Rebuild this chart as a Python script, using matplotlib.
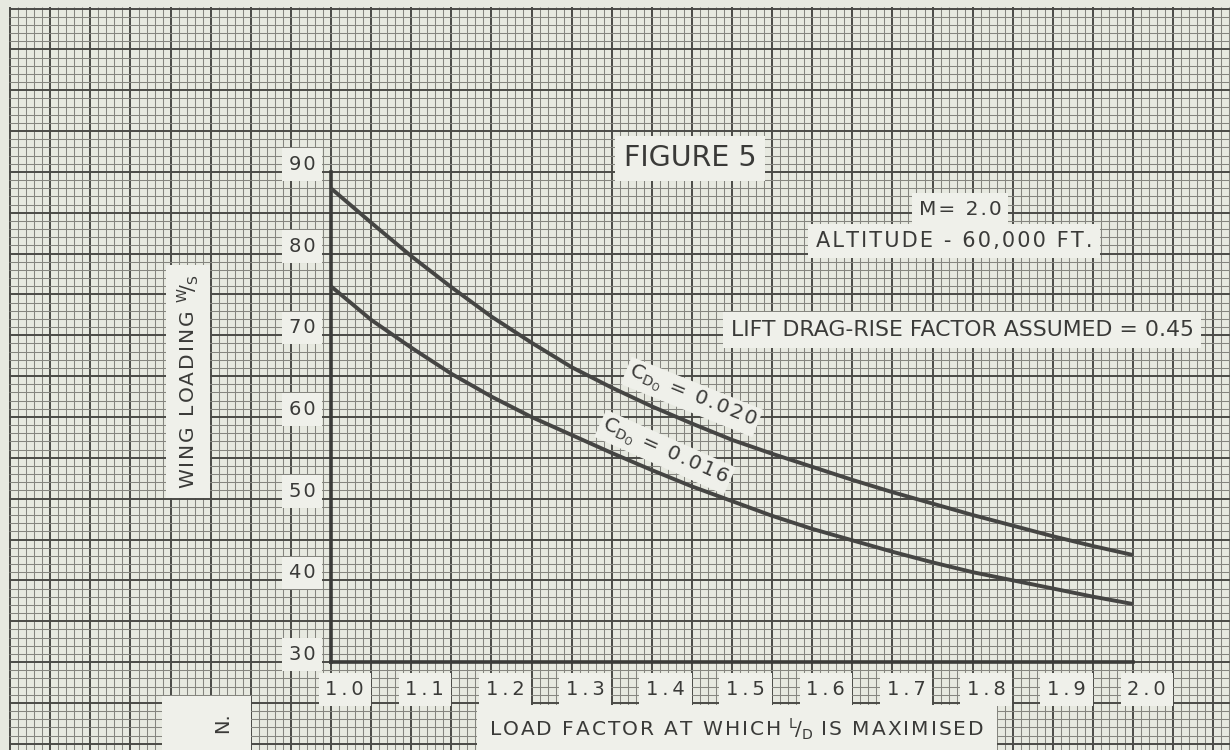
import numpy as np
import matplotlib
matplotlib.use("Agg")
import matplotlib.pyplot as plt

# load factor (x) and wing loading W/S
load_factor = [1.00, 1.05, 1.10, 1.15, 1.20, 1.25, 1.30, 1.35, 1.40, 1.45, 1.50,
               1.55, 1.60, 1.65, 1.70, 1.75, 1.80, 1.85, 1.90, 1.95, 2.00]
ws_cd020 = [88.0, 83.8, 79.7, 75.9, 72.3, 69.1, 66.1, 63.6, 61.3, 59.2, 57.2,
            55.5, 53.9, 52.3, 50.8, 49.4, 48.0, 46.7, 45.4, 44.2, 43.1]
ws_cd016 = [76.0, 71.9, 68.5, 65.3, 62.5, 60.0, 57.8, 55.6, 53.5, 51.5, 49.7,
            47.9, 46.3, 44.9, 43.5, 42.2, 41.0, 40.0, 39.0, 38.0, 37.1]

x_ticks = [1.0, 1.1, 1.2, 1.3, 1.4, 1.5, 1.6, 1.7, 1.8, 1.9, 2.0]
y_ticks = [30, 40, 50, 60, 70, 80, 90]

paper = "#e7e9e0"
boxc = "#eff0ea"
ink = "#3a3a38"


def spaced(s, gap="\u200a"):
    # wide letter spacing like the stencil lettering
    return gap.join(s)


fig = plt.figure(figsize=(12.3, 7.5), dpi=100, facecolor=paper)
ax = fig.add_axes([0, 0, 1, 1])
ax.set_facecolor(paper)
ax.set_xlim(0.5873, 2.1209)
ax.set_ylim(19.225, 111.06)
ax.axis('off')

# graph paper: minor every 0.01 / 1 unit, heavier every 5
xs = np.arange(60, 213) / 100
ys = np.arange(20, 111)
for i, x in enumerate(xs):
    major = (i % 5 == 0)
    ax.vlines(x, 19, 110.2, color="#4a4a46" if major else "#85857f",
              lw=1.4 if major else 0.75, zorder=1)
for j, y in enumerate(ys):
    major = (j % 5 == 0)
    ax.hlines(y, 0.598, 2.13, color="#4a4a46" if major else "#85857f",
              lw=1.4 if major else 0.75, zorder=1)

# axes
ax.plot([1.0, 1.0], [30, 90], color=ink, lw=2.6, zorder=3)
ax.plot([1.0, 2.0], [30, 30], color=ink, lw=2.6, zorder=3)

# curves
ax.plot(load_factor, ws_cd020, color="#454543", lw=2.8, zorder=4,
        solid_capstyle='butt')
ax.plot(load_factor, ws_cd016, color="#454543", lw=2.8, zorder=4,
        solid_capstyle='butt')

box = dict(boxstyle='square,pad=0.35', fc=boxc, ec='none')

for v in y_ticks:
    ax.text(0.964, v + 0.9, spaced(str(v)), ha='center', va='center',
            fontsize=14, color=ink, bbox=box, zorder=5)
for v in x_ticks:
    ax.text(v + 0.017, 26.6, spaced("%.1f" % v, "\u2009"), ha='center',
            va='center', fontsize=14, color=ink, bbox=box, zorder=5)

ax.text(1.4476, 91.7, "FIGURE 5", ha='center', va='center', fontsize=20.5,
        color=ink, bbox=dict(boxstyle='square,pad=0.3', fc=boxc, ec='none'), zorder=5)
ax.text(1.7843, 85.35, spaced("M= 2.0"), ha='center', va='center',
        fontsize=14.5, color=ink, bbox=box, zorder=5)
ax.text(1.7768, 81.55, spaced("ALTITUDE - 60,000 FT."), ha='center',
        va='center', fontsize=15, color=ink, bbox=box, zorder=5)
ax.text(1.7868, 70.65, "LIFT DRAG-RISE FACTOR ASSUMED = 0.45", ha='center',
        va='center', fontsize=15.8, color=ink, bbox=box, zorder=5)

ax.text(0.8217, 64.3, spaced("WING LOADING ") + r"$^{\mathrm{W}}\!/_{\mathrm{S}}$",
        ha='center', va='center', rotation=90, fontsize=14.5, color=ink,
        bbox=dict(boxstyle='square,pad=0.45', fc=boxc, ec='none'), zorder=5)
ax.text(1.5062, 21.7,
        spaced("LOAD FACTOR AT WHICH ") + r"$^{\mathrm{L}}\!/_{\mathrm{D}}$" + spaced(" IS MAXIMISED"),
        ha='center', va='center', fontsize=14.5, color=ink,
        bbox=dict(boxstyle='square,pad=0.6', fc=boxc, ec='none'), zorder=5)

ax.text(1.4501, 62.45, r"$\mathrm{C_{D_O}}$" + spaced(" = 0.020"), ha='center',
        va='center', rotation=-22, rotation_mode='anchor', fontsize=14.5, color=ink,
        bbox=dict(boxstyle='square,pad=0.15', fc=boxc, ec='none'), zorder=5)
ax.text(1.4165, 55.7, r"$\mathrm{C_{D_O}}$" + spaced(" = 0.016"), ha='center',
        va='center', rotation=-24, rotation_mode='anchor', fontsize=14.5, color=ink,
        bbox=dict(boxstyle='square,pad=0.15', fc=boxc, ec='none'), zorder=5)

# scribbled mark bottom-left
ax.text(0.8535, 22.6, "N.", ha='left', va='center', rotation=90, fontsize=14,
        color=ink, zorder=6)
ax.text(0.8445, 22.3, "        ", ha='center', va='center', fontsize=14,
        bbox=dict(boxstyle='square,pad=1.0', fc=boxc, ec='none'), zorder=5)

fig.savefig("out.png", dpi=100, facecolor=paper)
